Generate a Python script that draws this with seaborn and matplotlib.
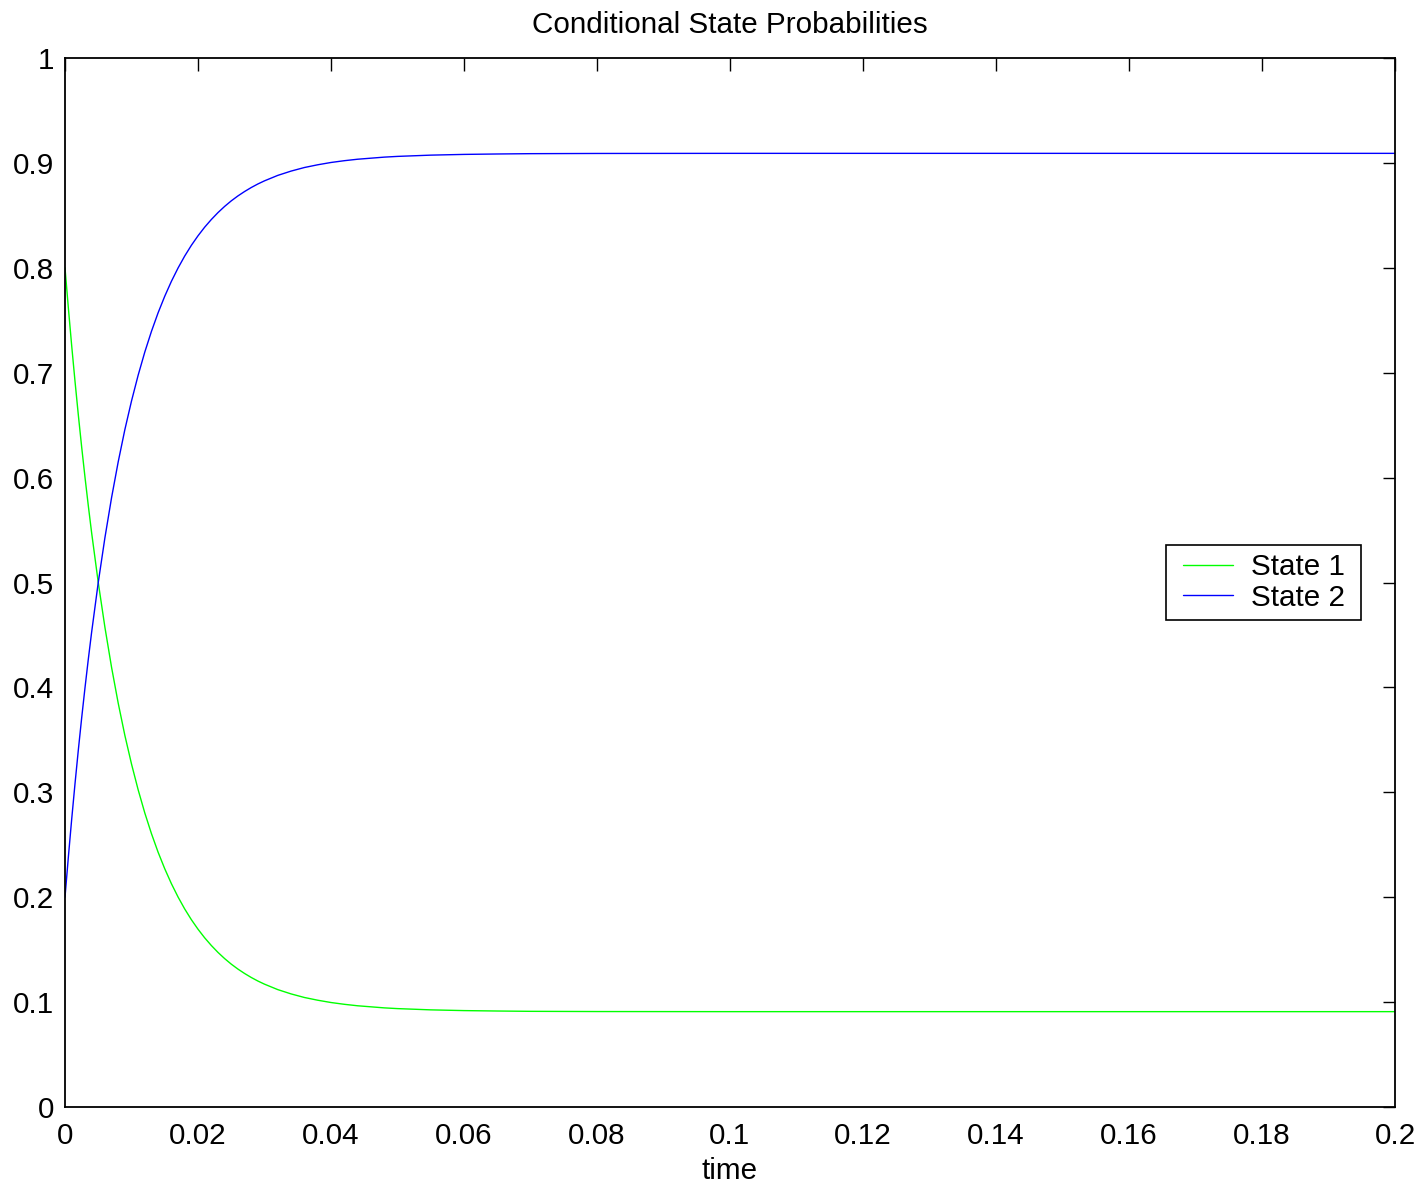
import matplotlib
matplotlib.use("Agg")
import matplotlib.pyplot as plt
from matplotlib.lines import Line2D
from matplotlib.legend_handler import HandlerLine2D
import seaborn as sns
import pandas as pd

time = [0.0, 0.0005, 0.001, 0.0015, 0.002, 0.0025, 0.003, 0.0035, 0.004,
        0.005, 0.006, 0.007, 0.008, 0.009, 0.010, 0.011, 0.012, 0.013, 0.014,
        0.015, 0.016, 0.017, 0.018, 0.019, 0.020, 0.021, 0.022, 0.023, 0.024,
        0.025, 0.026, 0.027, 0.028, 0.029, 0.030,
        0.032, 0.034, 0.036, 0.038, 0.040, 0.042, 0.044,
        0.048, 0.050, 0.055, 0.060, 0.065, 0.070, 0.080, 0.100, 0.150, 0.200]
state2 = [0.2000, 0.2379, 0.2739, 0.3079, 0.3401, 0.3705, 0.3993, 0.4266, 0.4524,
          0.5000, 0.5426, 0.5808, 0.6150, 0.6457, 0.6730, 0.6976, 0.7197, 0.7394, 0.7571,
          0.7729, 0.7871, 0.7998, 0.8112, 0.8214, 0.8305, 0.8387, 0.8460, 0.8526, 0.8585,
          0.8638, 0.8685, 0.8727, 0.8765, 0.8799, 0.8829,
          0.8881, 0.8922, 0.8956, 0.8982, 0.9004, 0.9021, 0.9035,
          0.9055, 0.9062, 0.9074, 0.9081, 0.9085, 0.9088, 0.9090, 0.9091, 0.9091, 0.9091]
state1 = [0.8000, 0.7621, 0.7261, 0.6921, 0.6599, 0.6295, 0.6007, 0.5734, 0.5476,
          0.5000, 0.4574, 0.4192, 0.3850, 0.3543, 0.3270, 0.3024, 0.2803, 0.2606, 0.2429,
          0.2271, 0.2129, 0.2002, 0.1888, 0.1786, 0.1695, 0.1613, 0.1540, 0.1474, 0.1415,
          0.1362, 0.1315, 0.1273, 0.1235, 0.1201, 0.1171,
          0.1119, 0.1078, 0.1044, 0.1018, 0.0996, 0.0979, 0.0965,
          0.0945, 0.0938, 0.0926, 0.0919, 0.0915, 0.0912, 0.0910, 0.0909, 0.0909, 0.0909]
series_names = ["State 1", "State 2"]
x_ticks = [0, 0.02, 0.04, 0.06, 0.08, 0.1, 0.12, 0.14, 0.16, 0.18, 0.2]
x_labels = ["0", "0.02", "0.04", "0.06", "0.08", "0.1", "0.12", "0.14", "0.16", "0.18", "0.2"]
y_ticks = [0, 0.1, 0.2, 0.3, 0.4, 0.5, 0.6, 0.7, 0.8, 0.9, 1]
y_labels = ["0", "0.1", "0.2", "0.3", "0.4", "0.5", "0.6", "0.7", "0.8", "0.9", "1"]

df = pd.DataFrame({
    "time": time + time,
    "value": state1 + state2,
    "series": [series_names[0]] * len(time) + [series_names[1]] * len(time),
})

sns.set_style("white")
plt.rcParams["font.family"] = ["Liberation Sans", "DejaVu Sans"]
plt.rcParams["text.color"] = "black"
plt.rcParams["axes.labelcolor"] = "black"

FS = 21.3
LW = 1.0
fig = plt.figure(figsize=(14.2, 11.83), dpi=100)
ax = fig.add_axes([65 / 1420, 1 - 1107 / 1183, 1330 / 1420, 1049 / 1183])

sns.lineplot(data=df, x="time", y="value", hue="series",
             palette={"State 1": (0, 1, 0), "State 2": (0, 0, 1)},
             linewidth=LW, ax=ax, legend=False)

ax.set_xlim(0, 0.2)
ax.set_ylim(0, 1)
ax.set_xticks(x_ticks)
ax.set_xticklabels(x_labels)
ax.set_yticks(y_ticks)
ax.set_yticklabels(y_labels)
ax.tick_params(direction="in", length=9, width=1, top=True, right=True,
               labelsize=FS, colors="black")
ax.tick_params(axis="x", pad=11)
ax.tick_params(axis="y", pad=8)
for sp in ax.spines.values():
    sp.set_visible(True)
    sp.set_color("black")
    sp.set_linewidth(1.3)
ax.set_xlabel("time", fontsize=FS, labelpad=5, color="black")
ax.set_ylabel("")
ax.set_title("Conditional State Probabilities", fontsize=FS, pad=18, color="black")

handles = [Line2D([], [], color=(0, 1, 0), lw=LW), Line2D([], [], color=(0, 0, 1), lw=LW)]
labels = [s + " " for s in series_names]
leg = ax.legend(handles, labels, loc="upper left", bbox_to_anchor=(0.828, 0.536),
                borderaxespad=0, fancybox=False, edgecolor="black", framealpha=1,
                fontsize=FS, handlelength=1.95, handletextpad=0.61, labelspacing=0.08,
                borderpad=0.29,
                handler_map={Line2D: HandlerLine2D(xpad=0.29)})
leg.get_frame().set_linewidth(1.2)

fig.savefig("out.png", dpi=100)
